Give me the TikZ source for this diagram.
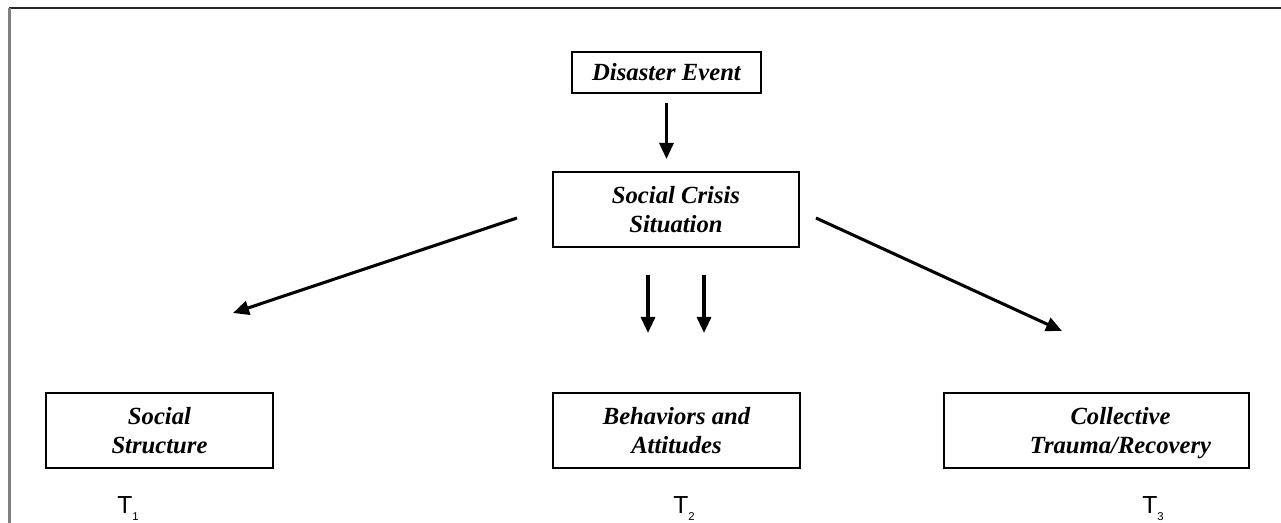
\documentclass[tikz,border=0pt]{standalone}
\usepackage{fontspec}
\setmainfont{Liberation Serif}
\newfontfamily\tfont{Liberation Sans}
\usetikzlibrary{arrows.meta, positioning}

\tikzset{
    box/.style={draw, line width=1.5pt, inner sep=0pt, align=center, minimum height=56.25pt,
        font=\fontsize{18.5}{21.75}\selectfont\bfseries\itshape},
    arr/.style={-{Triangle[length=12pt,width=10.5pt]}, line width=2.3pt},
    tlabel/.style={inner sep=0pt, anchor=base west, font=\fontsize{18.5}{20}\selectfont\tfont}
}
\newcommand{\tsub}[1]{T\raisebox{-5.6pt}{\fontsize{8.5}{9}\selectfont #1}}

\begin{document}
\begin{tikzpicture}[x=0.75pt, y=-0.75pt]
                        \useasboundingbox (0,0) rectangle (1281,523);
                        \draw[line width=2pt, black!85] (9,8) -- (1281,8);
                        \draw[line width=2.2pt, gray] (9.5,8) -- (9.5,523);
                        \node[box, minimum width=141.75pt, minimum height=30.75pt] (disaster) at (666.5,72.5) {Disaster Event};
                        \node[box, minimum width=184.5pt] (crisis) at (676,209.5) {Social Crisis\\Situation};
                        \node[box, minimum width=170.25pt] (structure) at (159.5,430.5) {Social\\Structure};
                        \node[box, minimum width=185.25pt] (behaviors) at (676.5,431) {Behaviors and\\Attitudes};
                        \node[box, minimum width=228.75pt] (collective) at (1096.5,430.5)
                            {\hspace*{36pt}Collective\\\hspace*{36pt}\raisebox{0pt}[\height][0pt]{Trauma/Recovery}};
                        \node[tlabel] (t1) at (117,513) {\tsub{1}};
                        \node[tlabel] (t2) at (673,513) {\tsub{2}};
                        \node[tlabel] (t3) at (1142,513) {\tsub{3}};
                        \coordinate (leftstart) at (517,218);
                        \coordinate (leftend) at (233,313);
                        \coordinate (rightstart) at (816,218);
                        \coordinate (rightend) at (1062,331);
                        \coordinate (midAstart) at (648,275);
                        \coordinate (midAend) at (648,333);
                        \coordinate (midBstart) at (704,275);
                        \coordinate (midBend) at (704,333);
                        \draw
                        (disaster.south) edge[arr, shorten <=6.75pt, shorten >=9pt] (disaster.south |- crisis.north)
                        (leftstart) edge[arr] (leftend)
                        (rightstart) edge[arr] (rightend)
                        (midAstart) edge[arr] (midAend)
                        (midBstart) edge[arr] (midBend);
                    \end{tikzpicture}
\end{document}
